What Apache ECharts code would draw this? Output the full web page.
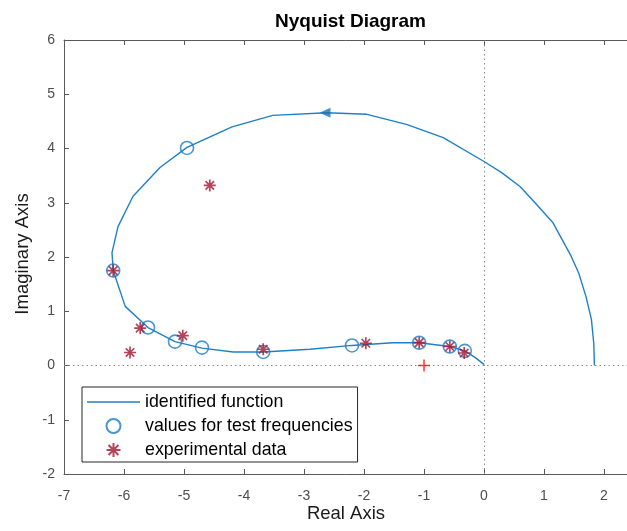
<!DOCTYPE html>
<html>
<head>
<meta charset="utf-8">
<script src="https://cdn.jsdelivr.net/npm/echarts@6/dist/echarts.min.js"></script>
<style>html,body{margin:0;padding:0;background:#fff;}#c{width:627px;height:531px;}</style>
</head>
<body>
<div id="c"></div>
<script>
// identified function (Nyquist curve), real and imaginary parts
const curveRe = [1.84, 1.83, 1.79, 1.70, 1.58, 1.45, 1.15, 0.85, 0.60, 0.30, 0.0, -0.68, -1.28, -1.95, -2.62, -3.52, -4.20, -4.95, -5.40, -5.85, -6.10, -6.20, -6.18, -5.98, -5.60, -5.15, -4.70, -4.18, -3.68, -2.90, -2.20, -1.52, -1.08, -0.57, -0.32, -0.15, 0.0];
const curveIm = [0.00, 0.40, 0.85, 1.27, 1.70, 2.02, 2.63, 3.00, 3.30, 3.55, 3.76, 4.20, 4.44, 4.63, 4.66, 4.61, 4.40, 4.02, 3.65, 3.12, 2.56, 2.08, 1.75, 1.09, 0.70, 0.44, 0.32, 0.25, 0.25, 0.30, 0.37, 0.42, 0.42, 0.35, 0.27, 0.15, 0.02];
// values for test frequencies
const testRe = [-4.95, -6.18, -5.60, -5.15, -4.70, -3.68, -2.20, -1.08, -0.57, -0.32];
const testIm = [4.01, 1.75, 0.70, 0.44, 0.33, 0.25, 0.37, 0.42, 0.35, 0.27];
// experimental data
const expRe = [-4.57, -6.18, -5.73, -5.90, -5.02, -3.68, -1.97, -1.08, -0.57, -0.33];
const expIm = [3.32, 1.75, 0.69, 0.24, 0.55, 0.30, 0.41, 0.42, 0.35, 0.23];
// critical point and direction arrow
const critical = [-1, 0];
const arrowPt = [-2.65, 4.66];
const xTicks = [-7, -6, -5, -4, -3, -2, -1, 0, 1, 2];
const yTicks = [-2, -1, 0, 1, 2, 3, 4, 5, 6];

const zip = (a, b) => a.map((v, i) => [v, b[i]]);
const asterisk = 'path://M0,-10L0,10M-10,0L10,0M-7.07,-7.07L7.07,7.07M-7.07,7.07L7.07,-7.07';
const plus = 'path://M0,-10L0,10M-10,0L10,0';
const lineIcon = 'path://M0,0M0,6.3H53V7.7H0ZM53,14';
const axisCol = '#5a5a5a';
const labelCol = '#4d4d4d';
const curveCol = '#1f80c8';

const chart = echarts.init(document.getElementById('c'));
chart.setOption({
  animation: false,
  backgroundColor: '#fff',
  title: {
    text: 'Nyquist Diagram', left: 270, top: 7,
    textStyle: {fontFamily: 'Liberation Sans', fontSize: 19, fontWeight: 'bold', color: '#000'}
  },
  grid: {left: 64, top: 40, right: -7, bottom: 57, outerBoundsMode: 'none', containLabel: false},
  xAxis: [{
    type: 'value', min: -7, max: 2.5, interval: 1,
    axisLine: {show: true, onZero: false, lineStyle: {color: axisCol}},
    axisTick: {inside: true, length: 5, lineStyle: {color: axisCol}},
    splitLine: {show: false},
    axisLabel: {color: labelCol, fontFamily: 'Liberation Sans', fontSize: 14, margin: 15,
      formatter: v => xTicks.includes(v) ? String(v) : ''}
  }, {
    type: 'value', min: -7, max: 2.5, interval: 1, position: 'top',
    axisLine: {show: true, onZero: false, lineStyle: {color: axisCol}},
    axisTick: {inside: true, length: 5, lineStyle: {color: axisCol}},
    splitLine: {show: false}, axisLabel: {show: false}
  }],
  yAxis: {
    type: 'value', min: -2, max: 6, interval: 1,
    axisLine: {show: true, onZero: false, lineStyle: {color: axisCol}},
    axisTick: {inside: true, length: 5, lineStyle: {color: axisCol}},
    splitLine: {show: false},
    axisLabel: {color: labelCol, fontFamily: 'Liberation Sans', fontSize: 14, margin: 9,
      formatter: v => yTicks.includes(v) ? String(v) : ''}
  },
  legend: {
    orient: 'vertical', left: 82, top: 387,
    data: [
      {name: 'identified function', icon: lineIcon},
      {name: 'values for test frequencies'},
      {name: 'experimental data'}
    ],
    backgroundColor: '#fff', borderColor: '#262626', borderWidth: 1,
    padding: [6, 5, 3, 5], itemGap: 6, itemWidth: 53, itemHeight: 14,
    textStyle: {fontFamily: 'Liberation Sans', fontSize: 17.8, lineHeight: 18, color: '#000'}
  },
  graphic: [
    {type: 'text', x: 346, y: 504,
      style: {text: 'Real Axis', font: '18.5px "Liberation Sans"', fill: '#1a1a1a', align: 'center', verticalAlign: 'top'}},
    {type: 'text', x: 13, y: 254, rotation: Math.PI / 2,
      style: {text: 'Imaginary Axis', font: '18.5px "Liberation Sans"', fill: '#1a1a1a', align: 'center', verticalAlign: 'top'}}
  ],
  series: [
    {
      name: 'identified function', type: 'line', data: zip(curveRe, curveIm),
      symbol: 'none', smooth: false, color: curveCol,
      itemStyle: {color: curveCol},
      lineStyle: {width: 1.4, color: curveCol}, z: 2,
      markLine: {
        silent: true, symbol: 'none', label: {show: false},
        lineStyle: {type: [1.5, 3], color: '#8c8c8c', width: 1},
        data: [{xAxis: 0}, {yAxis: 0}]
      }
    },
    {
      name: 'direction', type: 'scatter', data: [arrowPt], symbol: 'triangle',
      symbolSize: [10, 11], symbolRotate: 90, itemStyle: {color: '#1b72bd'}, z: 3
    },
    {
      name: 'values for test frequencies', type: 'scatter', data: zip(testRe, testIm),
      symbol: 'circle', symbolSize: 13,
      itemStyle: {color: 'rgba(0,0,0,0)', borderColor: '#1b7cc4', borderWidth: 1.6}, z: 4
    },
    {
      name: 'experimental data', type: 'scatter', data: zip(expRe, expIm),
      symbol: asterisk, symbolSize: 12,
      itemStyle: {color: 'rgba(0,0,0,0)', borderColor: '#a2142f', borderWidth: 1.7}, z: 5
    },
    {
      name: 'critical', type: 'scatter', data: [critical], symbol: plus, symbolSize: 12,
      itemStyle: {color: 'rgba(0,0,0,0)', borderColor: '#ff0000', borderWidth: 1.5}, z: 5
    }
  ]
});
</script>
</body>
</html>
